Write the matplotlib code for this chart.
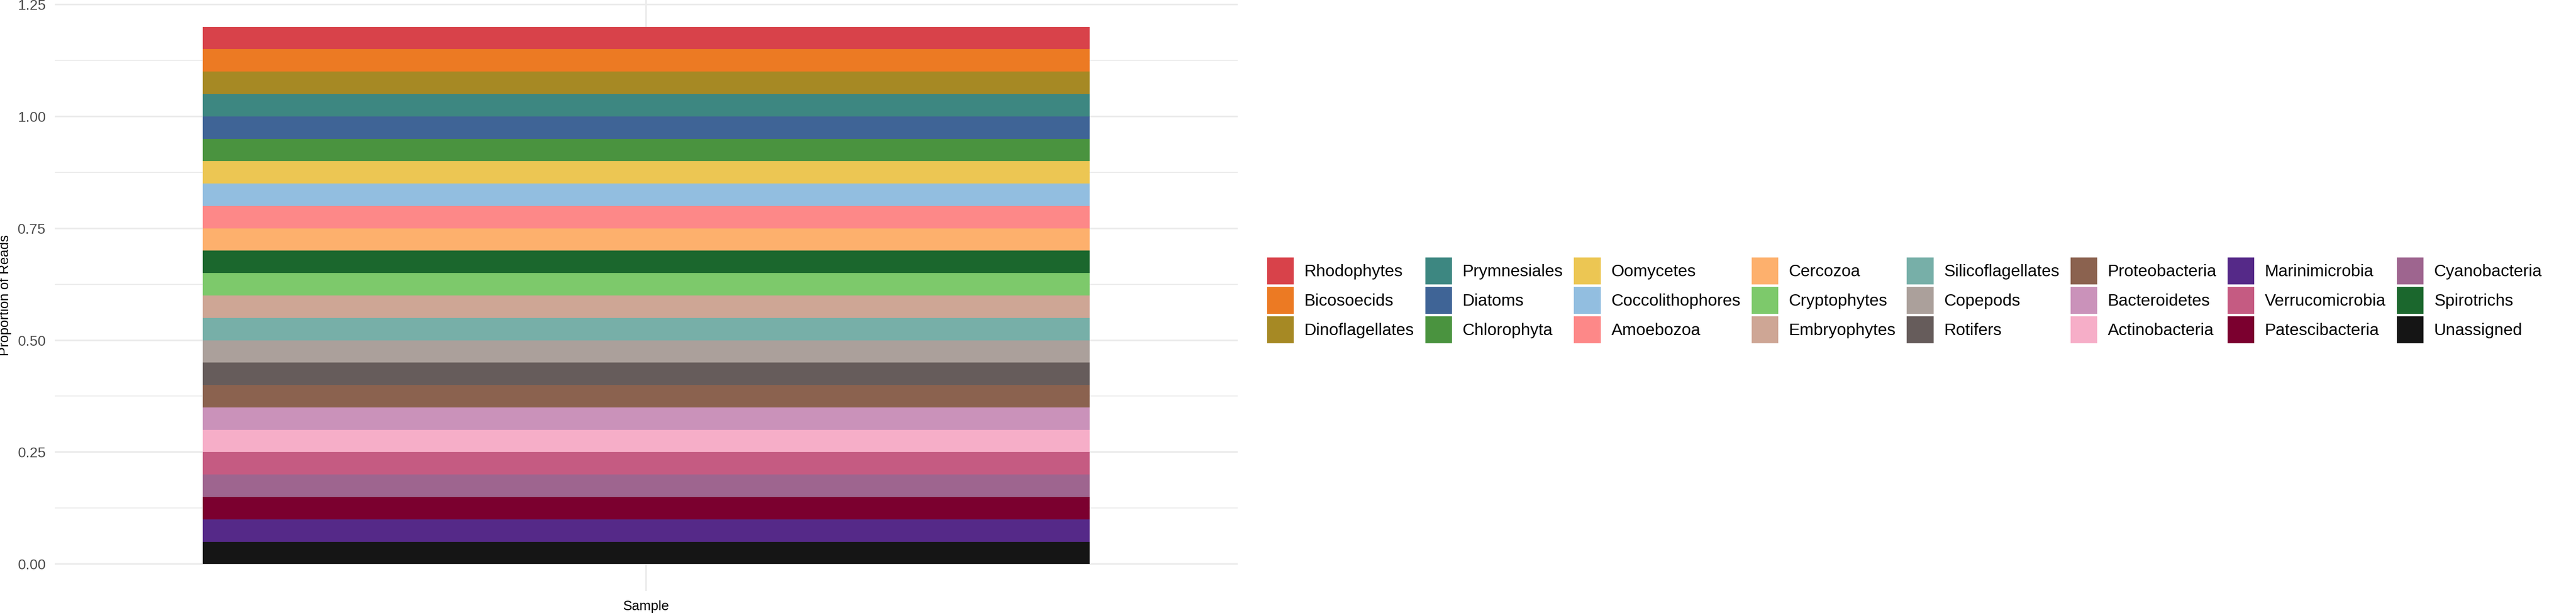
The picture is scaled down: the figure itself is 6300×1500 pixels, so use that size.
import matplotlib
matplotlib.use("Agg")
from matplotlib import pyplot as plt
from matplotlib.patches import Patch
from matplotlib.ticker import MultipleLocator, FormatStrFormatter

plt.rcParams["font.family"] = ["Liberation Sans", "DejaVu Sans"]

# groups as listed in the legend (filled column by column, 3 rows)
legend_groups = [
    "Rhodophytes", "Bicosoecids", "Dinoflagellates",
    "Prymnesiales", "Diatoms", "Chlorophyta",
    "Oomycetes", "Coccolithophores", "Amoebozoa",
    "Cercozoa", "Cryptophytes", "Embryophytes",
    "Silicoflagellates", "Copepods", "Rotifers",
    "Proteobacteria", "Bacteroidetes", "Actinobacteria",
    "Marinimicrobia", "Verrucomicrobia", "Patescibacteria",
    "Cyanobacteria", "Spirotrichs", "Unassigned",
]

# order of the segments in the bar, bottom to top
stack_groups = [
    "Unassigned", "Marinimicrobia", "Patescibacteria", "Cyanobacteria",
    "Verrucomicrobia", "Actinobacteria", "Bacteroidetes", "Proteobacteria",
    "Rotifers", "Copepods", "Silicoflagellates", "Embryophytes",
    "Cryptophytes", "Spirotrichs", "Cercozoa", "Amoebozoa",
    "Coccolithophores", "Oomycetes", "Chlorophyta", "Diatoms",
    "Prymnesiales", "Dinoflagellates", "Bicosoecids", "Rhodophytes",
]
stack_values = [
    0.05, 0.05, 0.05, 0.05, 0.05, 0.05, 0.05, 0.05,
    0.05, 0.05, 0.05, 0.05, 0.05, 0.05, 0.05, 0.05,
    0.05, 0.05, 0.05, 0.05, 0.05, 0.05, 0.05, 0.05,
]
sample_name = "Sample"

colours = {
    "Rhodophytes": "#D8424A",
    "Bicosoecids": "#EC7A23",
    "Dinoflagellates": "#A68924",
    "Prymnesiales": "#3D8781",
    "Diatoms": "#3F6496",
    "Chlorophyta": "#4A933F",
    "Oomycetes": "#ECC653",
    "Coccolithophores": "#92BEE0",
    "Amoebozoa": "#FD8888",
    "Cercozoa": "#FDB06D",
    "Cryptophytes": "#7DC96B",
    "Embryophytes": "#CEA695",
    "Silicoflagellates": "#77AFA8",
    "Copepods": "#ABA09B",
    "Rotifers": "#665C5B",
    "Proteobacteria": "#8B624F",
    "Bacteroidetes": "#CA92BA",
    "Actinobacteria": "#F6AEC8",
    "Marinimicrobia": "#552988",
    "Verrucomicrobia": "#C55B82",
    "Patescibacteria": "#7B002F",
    "Cyanobacteria": "#9E658F",
    "Spirotrichs": "#1B672D",
    "Unassigned": "#151515",
}

W, H = 6300, 1500
fig = plt.figure(figsize=(21, 5), dpi=300)
ax = fig.add_axes([134 / W, 54 / H, 2893 / W, 1446 / H])

bottom = 0.0
for name, val in zip(stack_groups, stack_values):
    ax.bar(1, val, width=0.9, bottom=bottom, color=colours[name], zorder=2)
    bottom += val

ax.set_xlim(0.4, 1.6)
ax.set_ylim(-0.06, 1.26)
ax.set_xticks([1])
ax.set_xticklabels([""])
ax.yaxis.set_major_locator(MultipleLocator(0.25))
ax.yaxis.set_minor_locator(MultipleLocator(0.125))
ax.yaxis.set_major_formatter(FormatStrFormatter("%.2f"))
ax.tick_params(which="both", length=0)
ax.tick_params(axis="y", labelsize=8.5, labelcolor="#4D4D4D", pad=5.3)
ax.grid(which="major", color="#EBEBEB", linewidth=0.96)
ax.grid(which="minor", axis="y", color="#EBEBEB", linewidth=0.58)
ax.set_axisbelow(True)
for s in ax.spines.values():
    s.set_visible(False)

# axis titles
fig.text(13 / W, 1 - 723 / H, "Proportion of Reads", fontsize=8,
         rotation=90, ha="center", va="center")
fig.text(1580 / W, 7 / H, sample_name, fontsize=8, ha="center", va="baseline")

handles = [Patch(facecolor=colours[n], edgecolor="none", label=n) for n in legend_groups]
fig.legend(handles=handles, ncol=8, loc="center left",
           bbox_to_anchor=(3099 / W, 1 - 735 / H), bbox_transform=fig.transFigure,
           frameon=False, fontsize=9.8, handlelength=1.6, handleheight=2.11,
           handletextpad=0.63, columnspacing=0.66, labelspacing=0.15,
           borderpad=0, borderaxespad=0)

fig.savefig("out.png", dpi=300)
